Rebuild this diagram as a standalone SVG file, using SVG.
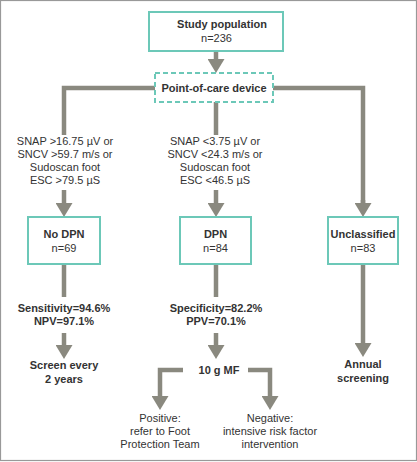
<svg xmlns="http://www.w3.org/2000/svg" width="417" height="462" viewBox="0 0 417 462">
<defs>
<style>
.box{fill:#fff;stroke:#6cc8b8;stroke-width:2}
.dash{stroke-dasharray:5 3}
.t{font-family:"Liberation Sans",Arial,sans-serif;font-size:11px;fill:#333;text-anchor:middle}
.b{font-weight:bold}
.c{fill:none;stroke:#8a897f;stroke-width:4.5;marker-end:url(#ah)}
.cn{fill:none;stroke:#8a897f;stroke-width:4.5}
</style>
<marker id="ah" markerUnits="userSpaceOnUse" viewBox="0 0 14 17" refX="0" refY="8.5" markerWidth="14" markerHeight="17" orient="auto">
<path d="M0,0 L14,8.5 L0,17 z" fill="#8a897f"/>
</marker>
</defs>
<rect x="0.5" y="0.5" width="416" height="460" fill="#fff" stroke="#999" stroke-width="1.2"/>
<g id="connectors">
<path class="c" d="M216,52 V59"/>
<path class="cn" d="M155,88 H64 V135"/>
<path class="cn" d="M273,88 H363 V203"/>
<path class="c" d="M363,200 V203"/>
<path class="cn" d="M216,102 V135"/>
<path class="c" d="M64,190 V203"/>
<path class="c" d="M216,190 V203"/>
<path class="cn" d="M64,264 V297"/>
<path class="cn" d="M216,264 V297"/>
<path class="c" d="M64,333 V345"/>
<path class="c" d="M216,333 V345"/>
<path class="c" d="M363,264 V343"/>
<path class="c" d="M183,370 H160 V396"/>
<path class="c" d="M248,370 H270 V396"/>
</g>
<g id="study">
<rect class="box" x="149" y="12" width="134" height="39"/>
<text class="t b" x="222" y="28">Study population</text>
<text class="t" x="216.5" y="42">n=236</text>
</g>
<g id="poc">
<rect class="box dash" x="155" y="73" width="118" height="29"/>
<text class="t b" x="214" y="92">Point-of-care device</text>
</g>
<g id="crit-nodpn">
<text class="t" x="65" y="145">SNAP &gt;16.75 µV or</text>
<text class="t" x="65" y="158">SNCV &gt;59.7 m/s or</text>
<text class="t" x="65" y="171">Sudoscan foot</text>
<text class="t" x="65" y="183.5">ESC &gt;79.5 µS</text>
</g>
<g id="crit-dpn">
<text class="t" x="215" y="145">SNAP &lt;3.75 µV or</text>
<text class="t" x="215" y="158">SNCV &lt;24.3 m/s or</text>
<text class="t" x="215" y="171">Sudoscan foot</text>
<text class="t" x="215" y="183.5">ESC &lt;46.5 µS</text>
</g>
<g id="nodpn">
<rect class="box" x="28" y="217" width="72" height="47"/>
<text class="t b" x="64" y="238">No DPN</text>
<text class="t" x="64" y="252">n=69</text>
</g>
<g id="dpn">
<rect class="box" x="180" y="217" width="71" height="47"/>
<text class="t b" x="215.5" y="238">DPN</text>
<text class="t" x="215.5" y="252">n=84</text>
</g>
<g id="unclassified">
<rect class="box" x="328" y="217" width="70" height="47"/>
<text class="t b" x="363" y="238">Unclassified</text>
<text class="t" x="363" y="252">n=83</text>
</g>
<g id="sens">
<text class="t b" x="64" y="312">Sensitivity=94.6%</text>
<text class="t b" x="64" y="324.5">NPV=97.1%</text>
</g>
<g id="spec">
<text class="t b" x="216" y="312">Specificity=82.2%</text>
<text class="t b" x="216" y="324.5">PPV=70.1%</text>
</g>
<g id="screen2">
<text class="t b" x="64" y="369">Screen every</text>
<text class="t b" x="64" y="383">2 years</text>
</g>
<g id="mf">
<text class="t b" x="219" y="374">10 g MF</text>
</g>
<g id="annual">
<text class="t b" x="363" y="368">Annual</text>
<text class="t b" x="363" y="382">screening</text>
</g>
<g id="positive">
<text class="t" x="160" y="422">Positive:</text>
<text class="t" x="160" y="435">refer to Foot</text>
<text class="t" x="160" y="448">Protection Team</text>
</g>
<g id="negative">
<text class="t" x="270" y="422">Negative:</text>
<text class="t" x="270" y="435">intensive risk factor</text>
<text class="t" x="270" y="448">intervention</text>
</g>
</svg>
